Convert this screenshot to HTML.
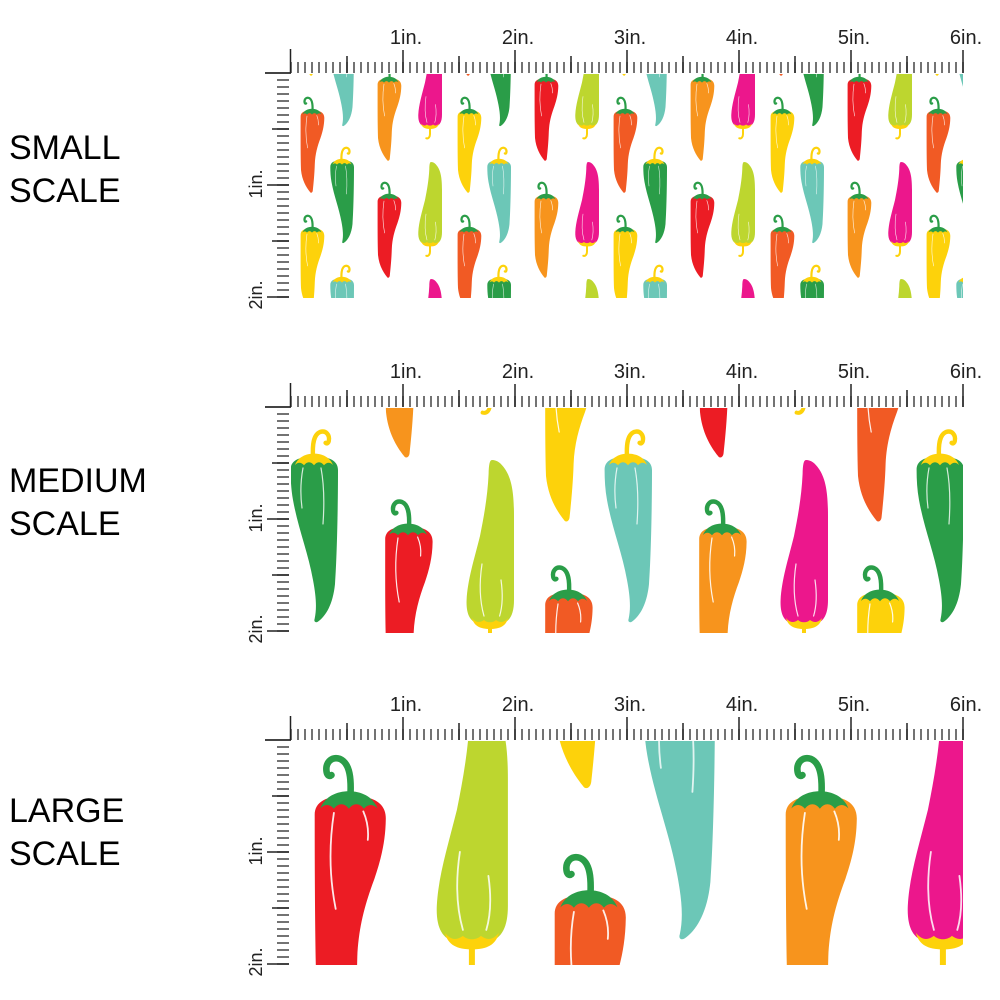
<!DOCTYPE html>
<html>
<head>
<meta charset="utf-8">
<style>
html,body{margin:0;padding:0;background:#fff;width:1000px;height:1000px;overflow:hidden;}
svg{display:block;}
text{font-family:"Liberation Sans",Arial,sans-serif;}
</style>
</head>
<body>
<svg width="1000" height="1000" viewBox="0 0 1000 1000" xmlns="http://www.w3.org/2000/svg">
<defs>
  <!-- warm upright pepper (stem curls left), straight left edge -->
  <g id="ul">
    <path d="M12.5,0.5 C12.8,-5 12.5,-10.5 9,-12 C6,-13 4,-10.5 4.6,-7.5 C4.8,-6.5 5.5,-6 6.2,-6.6" fill="none" stroke="currentColor" stroke-width="2.2" stroke-linecap="round"/>
    <path d="M0.6,7 C0.4,2 5,0.2 12,0.4 C19,0.2 24.4,2 24.3,8 C24.2,16 22.5,22 20.5,28 C17.5,36 15.2,44 14.8,54 C14.5,64 13.5,74 12.8,80.5 C12.6,82.8 10.8,83.4 10,82 C6,77 2,70 1,60 C0.5,45 0.6,25 0.6,7 Z"/>
    <path d="M2.5,4.5 C4,0.5 8,-1.2 12,-1.2 C16,-1.2 20,0.5 21.5,4.5 C20,3 18.5,3 17,4.6 C15.5,2.6 13.5,2.6 12,4.6 C10.5,2.6 8.5,2.6 7,4.6 C5.5,3 4,3 2.5,4.5 Z" fill="currentColor"/>
    <path d="M7,6 C5.3,17 5.6,28 7.6,38 M16.8,5.5 C18.3,9 18.6,12 18.3,15" fill="none" stroke="#fff" stroke-width="0.6" stroke-linecap="round" opacity="0.9"/>
  </g>
  <!-- warm upright, cut at local y 58 -->
  <g id="ulc58">
    <path d="M12.5,0.5 C12.8,-5 12.5,-10.5 9,-12 C6,-13 4,-10.5 4.6,-7.5 C4.8,-6.5 5.5,-6 6.2,-6.6" fill="none" stroke="currentColor" stroke-width="2.2" stroke-linecap="round"/>
    <path d="M0.6,7 C0.4,2 5,0.2 12,0.4 C19,0.2 24.4,2 24.3,8 C24.2,16 22.5,22 20.5,28 C17.5,36 15.2,44 14.8,54 L14.7,58 L1,58 C0.7,45 0.6,25 0.6,7 Z"/>
    <path d="M2.5,4.5 C4,0.5 8,-1.2 12,-1.2 C16,-1.2 20,0.5 21.5,4.5 C20,3 18.5,3 17,4.6 C15.5,2.6 13.5,2.6 12,4.6 C10.5,2.6 8.5,2.6 7,4.6 C5.5,3 4,3 2.5,4.5 Z" fill="currentColor"/>
    <path d="M7,6 C5.3,17 5.6,28 7.6,38 M16.8,5.5 C18.3,9 18.6,12 18.3,15" fill="none" stroke="#fff" stroke-width="0.6" stroke-linecap="round" opacity="0.9"/>
  </g>
  <!-- warm upright, cut at local y 26 -->
  <g id="ulc26">
    <path d="M12.5,0.5 C12.8,-5 12.5,-10.5 9,-12 C6,-13 4,-10.5 4.6,-7.5 C4.8,-6.5 5.5,-6 6.2,-6.6" fill="none" stroke="currentColor" stroke-width="2.2" stroke-linecap="round"/>
    <path d="M0.6,7 C0.4,2 5,0.2 12,0.4 C19,0.2 24.4,2 24.3,8 C24.2,16 22.8,22 21.6,26 L0.6,26 Z"/>
    <path d="M2.5,4.5 C4,0.5 8,-1.2 12,-1.2 C16,-1.2 20,0.5 21.5,4.5 C20,3 18.5,3 17,4.6 C15.5,2.6 13.5,2.6 12,4.6 C10.5,2.6 8.5,2.6 7,4.6 C5.5,3 4,3 2.5,4.5 Z" fill="currentColor"/>
    <path d="M7,6 C5.8,13 5.8,19 6.2,24 M16.8,5.5 C18.3,9 18.6,12 18.3,15" fill="none" stroke="#fff" stroke-width="0.6" stroke-linecap="round" opacity="0.9"/>
  </g>
  <!-- cool upright pepper (stem curls right), leaning shape -->
  <g id="ur">
    <path d="M11.5,0.5 C11.2,-5 11.5,-10.5 15,-12 C18,-13 20,-10.5 19.4,-7.5 C19.2,-6.5 18.5,-6 17.8,-6.6" fill="none" stroke="currentColor" stroke-width="2.2" stroke-linecap="round"/>
    <path d="M0.3,7 C0.2,2 5,0.2 12,0.4 C19,0.2 24,2 24,7 C24,25 23.5,50 22.5,64 C21.5,74 18,80 14,82.8 C12.8,83.6 11.8,82.8 12.3,81.5 C13.5,76 13,70 11.5,62 C9,48 4,36 1.5,22 C0.6,17 0.3,12 0.3,7 Z"/>
    <path d="M2.5,4.5 C4,0.5 8,-1.2 12,-1.2 C16,-1.2 20,0.5 21.5,4.5 C20,3 18.5,3 17,4.6 C15.5,2.6 13.5,2.6 12,4.6 C10.5,2.6 8.5,2.6 7,4.6 C5.5,3 4,3 2.5,4.5 Z" fill="currentColor"/>
    <path d="M6.5,6 C5,14 5.2,20 6,26 M15.5,6 C17,14 17.2,24 16.5,34" fill="none" stroke="#fff" stroke-width="0.6" stroke-linecap="round" opacity="0.8"/>
  </g>
  <!-- inverted pepper (tip up) -->
  <g id="iv">
    <path d="M12,82 L12,89.5 C12,92.5 10.5,94.5 8.3,93.8" fill="none" stroke="#fdd20b" stroke-width="2" stroke-linecap="round"/>
    <path d="M13,0 C15.5,0 17.5,1.5 19.5,4.5 C22.5,9 24,15 24,28 L24,70 C24,77 22,81 17.5,82 L6.5,82 C2,81 0,77 0.3,70 C0.8,60 4,50 7,38 C9,28 10.8,18 11.3,7 C11.4,2.5 11.8,0 13,0 Z"/>
    <path d="M3,79 C5,81.5 7,81.5 9,80 C10.5,81.5 13.5,81.5 15,80 C17,81.5 19,81.5 21,79 C20,83 17,84.5 12,84.5 C7,84.5 4,83 3,79 Z" fill="#fdd20b"/>
    <path d="M8,52 C6.5,62 7,71 9,78 M17.5,60 C18.5,67 18.3,73 16.8,78" fill="none" stroke="#fff" stroke-width="0.6" stroke-linecap="round" opacity="0.85"/>
  </g>

  <!-- small-scale tile -->
  <g id="tileS">
    <use href="#ul" x="9" y="-80" fill="#fdd20b" color="#2a9d48"/>
    <use href="#ul" x="9" y="37" fill="#f15a24" color="#2a9d48"/>
    <use href="#ul" x="9" y="155" fill="#fdd20b" color="#2a9d48"/>
    <use href="#ur" x="39" y="-30" fill="#6cc7b7" color="#fdd20b"/>
    <use href="#ur" x="39" y="87" fill="#2a9d48" color="#fdd20b"/>
    <use href="#ur" x="39" y="205" fill="#6cc7b7" color="#fdd20b"/>
    <use href="#ul" x="86" y="5" fill="#f7941d" color="#2a9d48"/>
    <use href="#ul" x="86" y="122" fill="#ec1c24" color="#2a9d48"/>
    <use href="#iv" x="127" y="-28.5" fill="#ec178c"/>
    <use href="#iv" x="127" y="89" fill="#bdd62f"/>
    <use href="#iv" x="127" y="206" fill="#ec178c"/>
    <use href="#ul" x="166" y="-80" fill="#f15a24" color="#2a9d48"/>
    <use href="#ul" x="166" y="37" fill="#fdd20b" color="#2a9d48"/>
    <use href="#ul" x="166" y="155" fill="#f15a24" color="#2a9d48"/>
    <use href="#ur" x="196" y="-30" fill="#2a9d48" color="#fdd20b"/>
    <use href="#ur" x="196" y="87" fill="#6cc7b7" color="#fdd20b"/>
    <use href="#ur" x="196" y="205" fill="#2a9d48" color="#fdd20b"/>
    <use href="#ul" x="243" y="5" fill="#ec1c24" color="#2a9d48"/>
    <use href="#ul" x="243" y="122" fill="#f7941d" color="#2a9d48"/>
    <use href="#iv" x="284" y="-28.5" fill="#bdd62f"/>
    <use href="#iv" x="284" y="89" fill="#ec178c"/>
    <use href="#iv" x="284" y="206" fill="#bdd62f"/>
  </g>

  <!-- medium-scale tile -->
  <g id="tileM">
    <use href="#ul" x="9" y="37" fill="#f15a24" color="#2a9d48"/>
    <use href="#ul" x="9" y="155" fill="#fdd20b" color="#2a9d48"/>
    <use href="#ur" x="39" y="87" fill="#2a9d48" color="#fdd20b"/>
    <use href="#ul" x="86" y="5" fill="#f7941d" color="#2a9d48"/>
    <use href="#ul" x="86" y="122" fill="#ec1c24" color="#2a9d48"/>
    <use href="#iv" x="127" y="-28.5" fill="#ec178c"/>
    <use href="#iv" x="127" y="89" fill="#bdd62f"/>
    <use href="#ul" x="166" y="37" fill="#fdd20b" color="#2a9d48"/>
    <use href="#ul" x="166" y="155" fill="#f15a24" color="#2a9d48"/>
    <use href="#ur" x="196" y="87" fill="#6cc7b7" color="#fdd20b"/>
    <use href="#ul" x="243" y="5" fill="#ec1c24" color="#2a9d48"/>
    <use href="#ul" x="243" y="122" fill="#f7941d" color="#2a9d48"/>
    <use href="#iv" x="284" y="-28.5" fill="#bdd62f"/>
    <use href="#iv" x="284" y="89" fill="#ec178c"/>
  </g>

  <pattern id="ph" patternUnits="userSpaceOnUse" x="290.25" y="0" width="7" height="11">
    <rect x="0" y="0" width="1.5" height="11" fill="#444"/>
  </pattern>
  <pattern id="pv" patternUnits="userSpaceOnUse" x="0" y="-0.75" width="20" height="7">
    <rect x="0" y="0" width="20" height="1.5" fill="#444"/>
  </pattern>

  <g id="ruler">
    <rect x="290.25" y="-11" width="674" height="11" fill="url(#ph)"/>
    <rect x="277" y="-0.75" width="12" height="226" fill="url(#pv)"/>
    <g stroke="#222" stroke-width="1.5">
      <line x1="265" y1="0" x2="291" y2="0" stroke="#444" stroke-width="2"/>
      <line x1="290.5" y1="-24" x2="290.5" y2="0"/>
      <line x1="403" y1="-23" x2="403" y2="0"/>
      <line x1="515" y1="-23" x2="515" y2="0"/>
      <line x1="627" y1="-23" x2="627" y2="0"/>
      <line x1="739" y1="-23" x2="739" y2="0"/>
      <line x1="851" y1="-23" x2="851" y2="0"/>
      <line x1="963" y1="-23" x2="963" y2="0"/>
      <line x1="347" y1="-17" x2="347" y2="0"/>
      <line x1="459" y1="-17" x2="459" y2="0"/>
      <line x1="571" y1="-17" x2="571" y2="0"/>
      <line x1="683" y1="-17" x2="683" y2="0"/>
      <line x1="795" y1="-17" x2="795" y2="0"/>
      <line x1="907" y1="-17" x2="907" y2="0"/>
      <line x1="272" y1="56" x2="289" y2="56"/>
      <line x1="272" y1="168" x2="289" y2="168"/>
      <line x1="267" y1="112" x2="289" y2="112"/>
      <line x1="267" y1="224" x2="289" y2="224"/>
    </g>
    <g font-size="20" fill="#222" text-anchor="middle">
      <text x="406" y="-29">1in.</text>
      <text x="518" y="-29">2in.</text>
      <text x="630" y="-29">3in.</text>
      <text x="742" y="-29">4in.</text>
      <text x="854" y="-29">5in.</text>
      <text x="966" y="-29">6in.</text>
    </g>
    <g font-size="18" fill="#222" text-anchor="middle">
      <text transform="translate(262,111) rotate(-90)">1in.</text>
      <text transform="translate(262,222) rotate(-90)">2in.</text>
    </g>
  </g>

  <clipPath id="cS"><rect x="291" y="74" width="672" height="224"/></clipPath>
  <clipPath id="cM"><rect x="291" y="408" width="672" height="225"/></clipPath>
  <clipPath id="cL"><rect x="291" y="741" width="672" height="224"/></clipPath>
</defs>

<rect width="1000" height="1000" fill="#fff"/>

<!-- Labels -->
<g font-size="34" fill="#000">
  <text x="9" y="159">SMALL</text>
  <text x="9" y="202">SCALE</text>
  <text x="9" y="492">MEDIUM</text>
  <text x="9" y="535">SCALE</text>
  <text x="9" y="822">LARGE</text>
  <text x="9" y="865">SCALE</text>
</g>

<!-- Small -->
<g clip-path="url(#cS)">
  <g transform="translate(291,73)">
    <use href="#tileS" x="0"/>
    <use href="#tileS" x="313"/>
    <use href="#ul" x="635" y="-80" fill="#fdd20b" color="#2a9d48"/>
    <use href="#ul" x="635" y="37" fill="#f15a24" color="#2a9d48"/>
    <use href="#ul" x="635" y="155" fill="#fdd20b" color="#2a9d48"/>
    <use href="#ur" x="665" y="-30" fill="#6cc7b7" color="#fdd20b"/>
    <use href="#ur" x="665" y="87" fill="#2a9d48" color="#fdd20b"/>
    <use href="#ur" x="665" y="205" fill="#6cc7b7" color="#fdd20b"/>
  </g>
</g>
<use href="#ruler" x="0" y="73"/>

<!-- Medium -->
<g clip-path="url(#cM)">
  <g transform="translate(291,407) scale(2) translate(-39.5,-62.5)">
    <use href="#tileM" x="0"/>
    <use href="#tileM" x="313"/>
  </g>
</g>
<use href="#ruler" x="0" y="407"/>

<!-- Large -->
<g clip-path="url(#cL)">
  <g transform="translate(291,740) scale(3) translate(-78.7,-103.7)">
    <use href="#ulc58" x="86" y="122" fill="#ec1c24" color="#2a9d48"/>
    <use href="#iv" x="127" y="89" fill="#bdd62f"/>
    <use href="#ul" x="166" y="37" fill="#fdd20b" color="#2a9d48"/>
    <use href="#ulc26" x="166" y="155" fill="#f15a24" color="#2a9d48"/>
    <use href="#ur" x="196" y="87" fill="#6cc7b7" color="#fdd20b"/>
    <use href="#ulc58" x="243" y="122" fill="#f7941d" color="#2a9d48"/>
    <use href="#iv" x="284" y="89" fill="#ec178c"/>
  </g>
</g>
<use href="#ruler" x="0" y="740"/>
</svg>
</body>
</html>
